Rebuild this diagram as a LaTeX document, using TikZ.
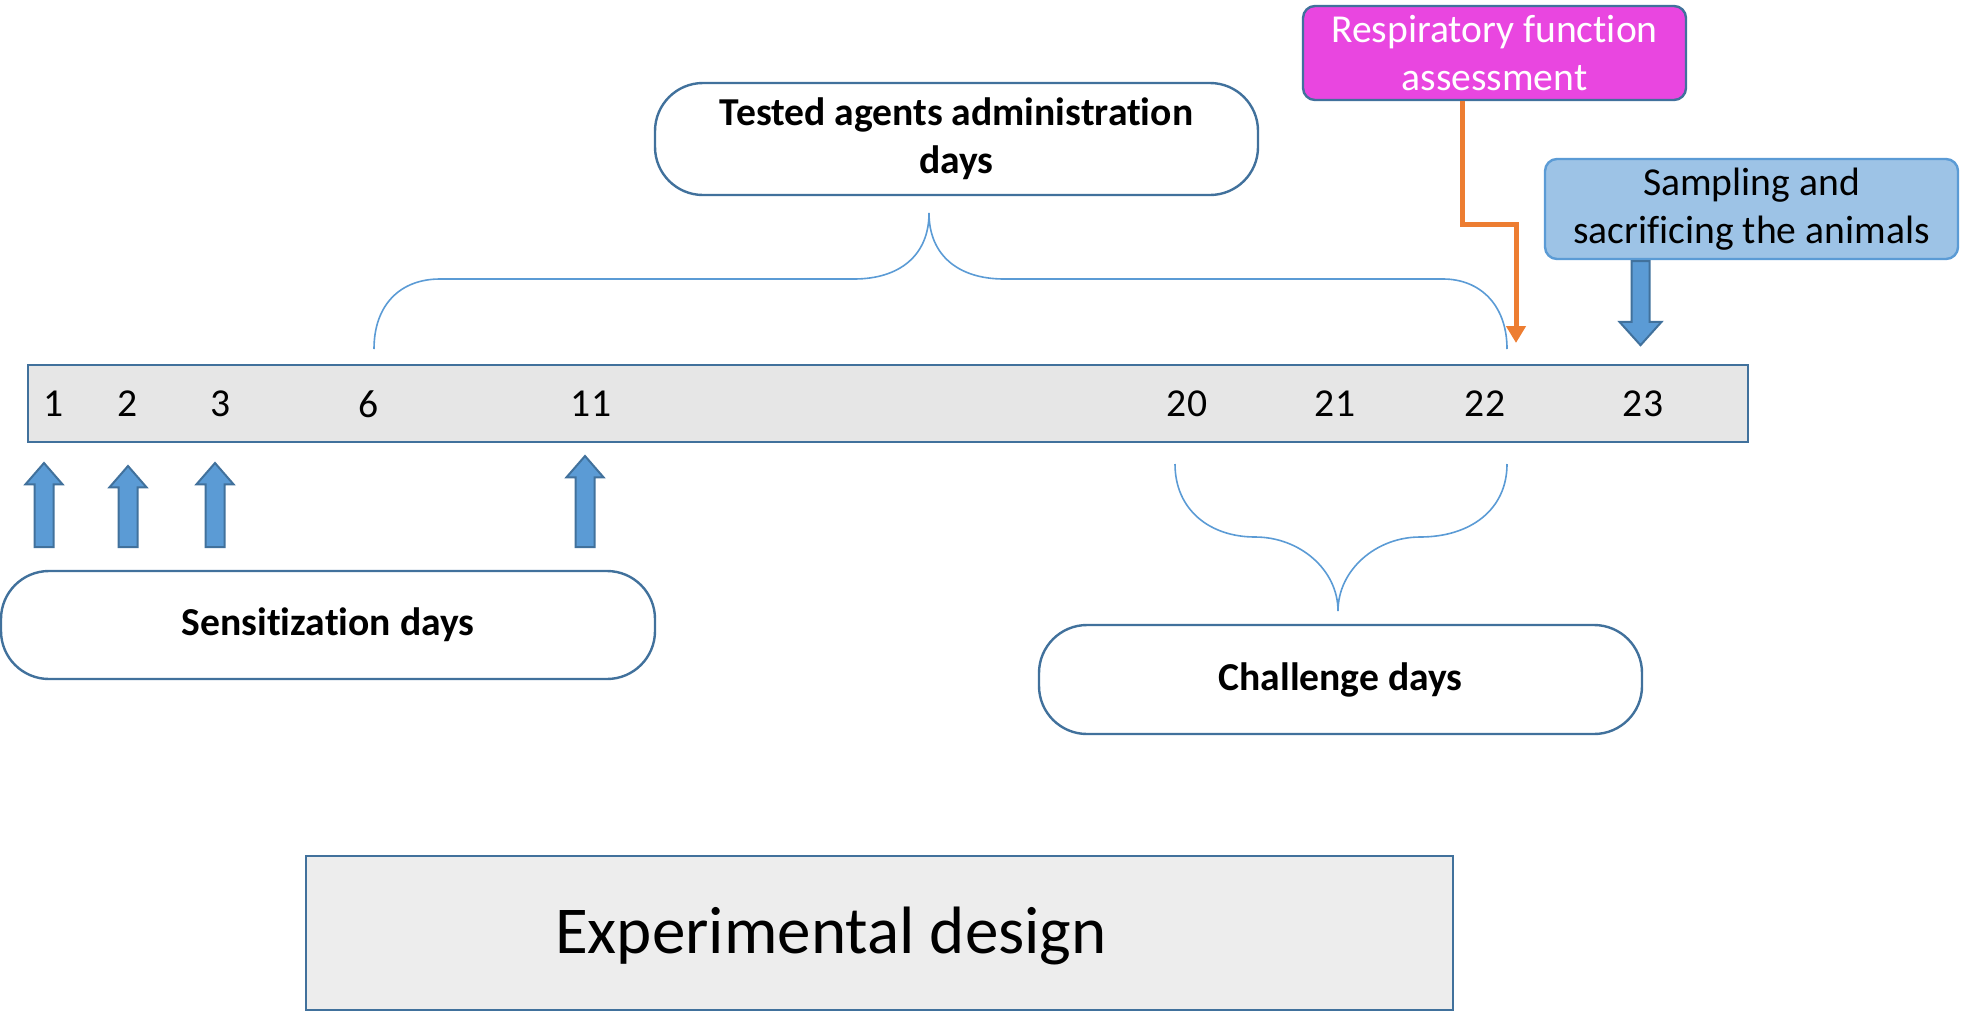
\documentclass[tikz,border=0pt]{standalone}
\usepackage{fontspec}
\setmainfont{Carlito}[Ligatures=NoCommon]
\usepackage{tikz}
\usetikzlibrary{arrows.meta}
\usetikzlibrary{positioning}
\usetikzlibrary{shapes.arrows}

\definecolor{edgeblue}{HTML}{41719C}
\definecolor{arrowblue}{HTML}{5B9BD5}
\definecolor{braceblue}{HTML}{5B9BD5}
\definecolor{sampblue}{HTML}{9DC3E6}
\definecolor{barfill}{HTML}{E6E6E6}
\definecolor{designfill}{HTML}{EDEDED}
\definecolor{respmagenta}{HTML}{E946E0}
\definecolor{resporange}{HTML}{ED7D31}

\begin{document}
\begin{tikzpicture}[x=0.5pt,y=-0.5pt,
  txt/.style={font=\fontsize{19.8}{24}\selectfont},
  pill/.style={draw=edgeblue,line width=1.2pt,fill=white,rounded corners=24pt,
    inner sep=0pt,align=center,font=\fontsize{19.8}{24}\selectfont\bfseries},
  tag/.style={draw=edgeblue,line width=1.2pt,rounded corners=6pt,inner sep=0pt,
    align=center,font=\fontsize{19.8}{24}\selectfont},
  upblock/.style={single arrow,rotate=90,draw=edgeblue,fill=arrowblue,
    line width=1pt,inner xsep=0pt,inner ysep=4.25pt,minimum height=42pt,
    single arrow head extend=4.5pt,single arrow tip angle=82,anchor=tail},
  brace/.style={draw=braceblue,line width=0.8pt}]
  \useasboundingbox (0,0) rectangle (1968,1012);

  % time line with the days
  \node[draw=edgeblue,fill=barfill,line width=1.2pt,minimum width=860pt,
      minimum height=38.5pt] (bar) at (888,403.5) {};
  \foreach \d/\x in {1/54,2/128,3/221,6/369,11/591,20/1187,21/1335,22/1485,23/1643}
    \node[txt] (d\d) at (\x,404) {\d};

  \node[upblock] (s1)  at (44,548)  {};
  \node[upblock,minimum height=40.5pt] (s2)  at (128,548) {};
  \node[upblock] (s3)  at (215,548) {};
  \node[upblock,minimum height=45.5pt] (s11) at (585,548) {};

  \node[pill,minimum width=327pt,minimum height=54pt] (sens) at (328,625) {Sensitization days};
  \node[pill,minimum width=301.5pt,minimum height=56pt] (tested) at (956.5,139)
    {Tested agents administration\\days};
  \node[pill,minimum width=301.5pt,minimum height=54.5pt] (chall) at (1340.5,679.5) {Challenge days};

  \node[tag,fill=respmagenta,text=white,minimum width=191.5pt,minimum height=47pt]
    (resp) at (1494.5,53) {Respiratory function\\assessment};
  \node[tag,draw=arrowblue,fill=sampblue,minimum width=206.5pt,minimum height=50pt]
    (samp) at (1751.5,209) {Sampling and\\sacrificing the animals};

  \coordinate (respTip) at (1516,343);
  \draw[resporange,line width=2.5pt,-{Triangle[width=9.5pt,length=8.5pt]}]
    ([xshift=-16.25pt]resp.south) -- ++(0,123) -| (respTip);
  \node[upblock,rotate=180,inner ysep=4pt,single arrow head extend=6pt,
      single arrow tip angle=84] (sampArrow) at ([xshift=-55.5pt]samp.south) {};

  \draw[brace] (374,349) .. controls (374,305) and (400,279) .. (440,279) -- (854,279)
    .. controls (900,279) and (929,255) .. (929,213)
    .. controls (929,255) and (958,279) .. (1004,279) -- (1443,279)
    .. controls (1480,279) and (1507,305) .. (1507,349);
  \draw[brace] (1175,464) .. controls (1175,510) and (1210,537) .. (1255,537)
    .. controls (1300,537) and (1338,570) .. (1338,611)
    .. controls (1338,570) and (1376,537) .. (1420,537)
    .. controls (1470,537) and (1507,510) .. (1507,464);

  \node[draw=edgeblue,fill=designfill,line width=1.2pt,minimum width=573.5pt,
      minimum height=77pt] (design) at (879.5,933) {};
  \node[font=\fontsize{33.5}{40}\selectfont] (designText) at (831,936) {Experimental design};
\end{tikzpicture}
\end{document}
